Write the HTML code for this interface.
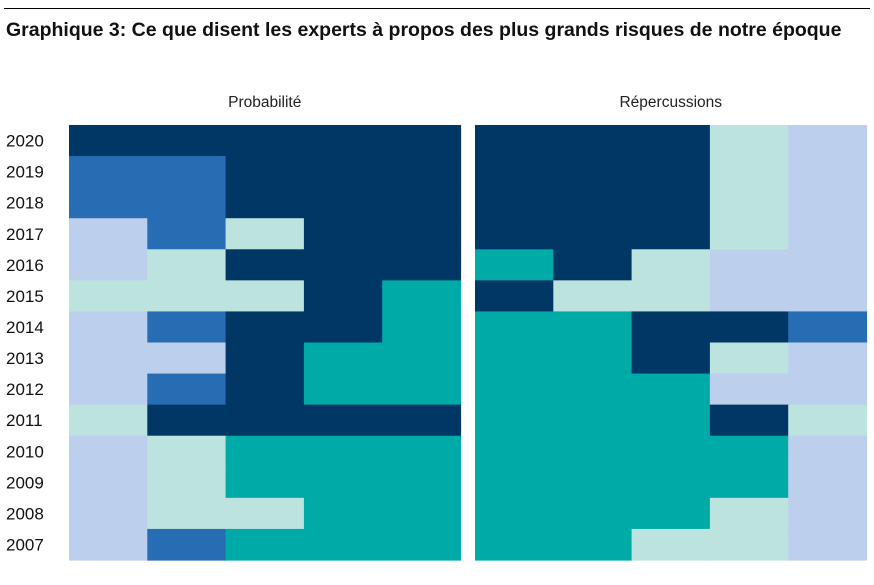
<!DOCTYPE html>
<html><head><meta charset="utf-8"><style>
body{margin:0;width:874px;height:585px;background:#fff;font-family:"Liberation Sans",Arial,sans-serif;position:relative;overflow:hidden}
.rule{position:absolute;left:4px;right:4px;top:8px;height:1px;background:#000}
h1{position:absolute;left:6px;top:17px;margin:0;font-size:19.5px;line-height:27px;font-weight:bold;color:#111;width:860px}
</style></head><body>
<div class="rule"></div>
<h1>Graphique 3: Ce que disent les experts à propos des plus grands risques de notre époque</h1>
<svg id="chart" width="874" height="585" style="position:absolute;left:0;top:0"></svg>
<script>
const years=["2020","2019","2018","2017","2016","2015","2014","2013","2012","2011","2010","2009","2008","2007"];
const panelTitles=["Probabilité","Répercussions"];
// D=dark navy, M=medium blue, L=light blue, P=pale cyan, T=teal
const probCells=["DDDDD","MMDDD","MMDDD","LMPDD","LPDDD","PPPDT","LMDDT","LLDTT","LMDTT","PDDDD","LPTTT","LPTTT","LPPTT","LMTTT"];
const impactCells=["DDDPL","DDDPL","DDDPL","DDDPL","TDPLL","DPPLL","TTDDM","TTDPL","TTTLL","TTTDP","TTTTL","TTTTL","TTTPL","TTPPL"];
const colors={D:"#003764",M:"#276db4",L:"#bccfec",P:"#bde3df",T:"#00aaa7"};
const NS="http://www.w3.org/2000/svg";
const svg=document.getElementById("chart");
const top0=125,rowH=435/14,colW=78.3;
const panelX=[69,475];
function yPos(i){return top0+i*rowH;}
function xPos(p,j){return panelX[p]+j*colW;}
[probCells,impactCells].forEach((cells,p)=>{
  const t=document.createElementNS(NS,"text");
  
  
  t.setAttribute("x",panelX[p]+colW*2.5);t.setAttribute("y",107);
  t.setAttribute("text-anchor","middle");t.setAttribute("font-size","15.5");t.setAttribute("fill","#222");
  t.textContent=panelTitles[p];svg.appendChild(t);
  cells.forEach((row,i)=>{
    row.split("").forEach((c,j)=>{
      const r=document.createElementNS(NS,"rect");
      
      
      r.setAttribute("x",xPos(p,j));r.setAttribute("y",yPos(i));
      r.setAttribute("width",colW+0.6);r.setAttribute("height",rowH+0.6);
      r.setAttribute("fill",colors[c]);svg.appendChild(r);
    });
  });
});
years.forEach((y,i)=>{
  const t=document.createElementNS(NS,"text");
  
  
  t.setAttribute("x",6);t.setAttribute("y",yPos(i)+rowH/2+6);
  t.setAttribute("font-size","17");t.setAttribute("fill","#111");
  t.textContent=y;svg.appendChild(t);
});
</script>
</body></html>
